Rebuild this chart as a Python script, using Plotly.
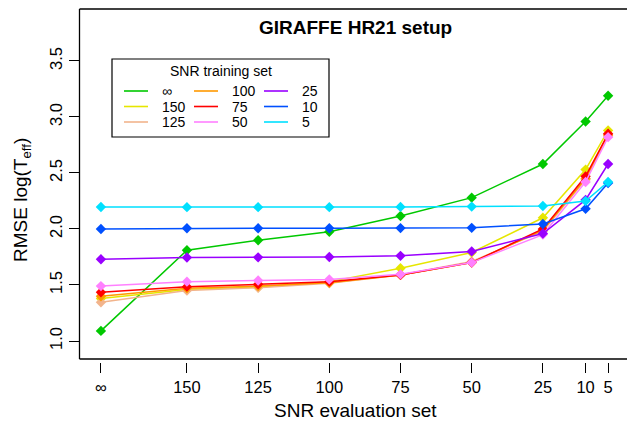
import plotly.graph_objects as go

# ---- data ----
eval_labels = ["∞", "150", "125", "100", "75", "50", "25", "10", "5"]
# axis coordinate used for each evaluation-set SNR category (reversed axis)
eval_axis_pos = [180.2, 150, 125, 100, 75, 50, 25, 10, 2.1]

train_labels = ["∞", "150", "125", "100", "75", "50", "25", "10", "5"]
train_colors = ["#00C800", "#E6E600", "#F2B48C", "#FF9900", "#FF0000",
                "#FF80FF", "#9900FF", "#0050FF", "#00E0FF"]

rmse_inf = [1.09, 1.81, 1.90, 1.976, 2.116, 2.28, 2.58, 2.96, 3.19]
rmse_150 = [1.38, 1.46, 1.48, 1.53, 1.65, 1.79, 2.10, 2.53, 2.88]
rmse_125 = [1.345, 1.45, 1.475, 1.515, 1.59, 1.71, 1.98, 2.44, 2.83]
rmse_100 = [1.40, 1.47, 1.49, 1.52, 1.59, 1.70, 1.99, 2.45, 2.84]
rmse_75 = [1.435, 1.485, 1.506, 1.53, 1.59, 1.70, 2.00, 2.47, 2.85]
rmse_50 = [1.49, 1.53, 1.54, 1.55, 1.595, 1.70, 1.95, 2.42, 2.82]
rmse_25 = [1.73, 1.745, 1.747, 1.75, 1.76, 1.80, 1.96, 2.26, 2.58]
rmse_10 = [2.00, 2.006, 2.006, 2.006, 2.008, 2.01, 2.045, 2.18, 2.41]
rmse_5 = [2.196, 2.195, 2.195, 2.195, 2.197, 2.20, 2.205, 2.25, 2.42]

series = [rmse_inf, rmse_150, rmse_125, rmse_100, rmse_75,
          rmse_50, rmse_25, rmse_10, rmse_5]

y_ticks = [1.0, 1.5, 2.0, 2.5, 3.0, 3.5]

# ---- figure ----
W, H = 627, 422
ML, MR, MT, MB = 80, 0, 9, 60
PW, PH = W - ML - MR, H - MT - MB

def px2paper(px, py):
    return (px - ML) / PW, (H - MB - py) / PH

fig = go.Figure()
for lab, col, ys in zip(train_labels, train_colors, series):
    fig.add_trace(go.Scatter(
        x=eval_axis_pos, y=ys, mode="lines+markers", name=lab,
        line=dict(color=col, width=1.5),
        marker=dict(symbol="diamond", size=8, color=col),
        showlegend=False, cliponaxis=False))

FONT = "Liberation Sans, Arial, Helvetica, sans-serif"

fig.update_layout(
    width=W, height=H,
    margin=dict(l=ML, r=MR, t=MT, b=MB, pad=0),
    paper_bgcolor="white", plot_bgcolor="white",
    font=dict(family=FONT, size=16, color="black"),
    xaxis=dict(
        range=[187.55, -4.54], tickmode="array",
        tickvals=eval_axis_pos, ticktext=eval_labels,
        ticks="outside", ticklen=10, tickwidth=1, tickcolor="black",
        showline=False, showgrid=False, zeroline=False, automargin=False,
        tickfont=dict(size=16.5),
    ),
    yaxis=dict(
        range=[0.8125, 3.964], tickmode="array", tickvals=y_ticks,
        ticktext=[f"{v:.1f}" for v in y_ticks], tickangle=-90,
        ticks="outside", ticklen=10, tickwidth=1, tickcolor="black",
        showline=False, showgrid=False, zeroline=False, automargin=False,
        tickfont=dict(size=16.5),
    ),
)

# axis titles
xt, yt = px2paper(355, 410)
fig.add_annotation(x=xt, y=yt, xref="paper", yref="paper", text="SNR evaluation set",
                   showarrow=False, font=dict(size=19), xanchor="center", yanchor="middle")
xt, yt = px2paper(22, 200)
fig.add_annotation(x=xt, y=yt, xref="paper", yref="paper", text="RMSE log(T<sub>eff</sub>)",
                   showarrow=False, font=dict(size=19), textangle=-90,
                   xanchor="center", yanchor="middle")

# plot box (bottom edge slightly above the detached x ticks)
x0b, y0b = px2paper(79.5, 359)
fig.add_shape(type="line", xref="paper", yref="paper", x0=x0b, x1=x0b, y0=y0b, y1=1,
              line=dict(color="black", width=1.3))
fig.add_shape(type="line", xref="paper", yref="paper", x0=x0b, x1=1.1, y0=1, y1=1,
              line=dict(color="black", width=1.3))
fig.add_shape(type="line", xref="paper", yref="paper", x0=x0b, x1=1.1, y0=y0b, y1=y0b,
              line=dict(color="black", width=1.3))

# title
tx, ty = px2paper(355, 28)
fig.add_annotation(x=tx, y=ty, xref="paper", yref="paper", text="<b>GIRAFFE HR21 setup</b>",
                   showarrow=False, font=dict(size=19), xanchor="center", yanchor="middle")

# legend box
lx0, ly0 = px2paper(112, 137)
lx1, ly1 = px2paper(329, 59)
fig.add_shape(type="rect", xref="paper", yref="paper", x0=lx0, y0=ly0, x1=lx1, y1=ly1,
              line=dict(color="black", width=1.2), fillcolor="white", layer="above")
ttx, tty = px2paper(221, 71)
fig.add_annotation(x=ttx, y=tty, xref="paper", yref="paper", text="SNR training set",
                   showarrow=False, font=dict(size=14), xanchor="center", yanchor="middle")
col_line_x = [(124, 148), (194, 218), (264, 288)]
col_text_x = [160, 230, 300]
row_y = [91, 106.5, 122]
for i, (lab, col) in enumerate(zip(train_labels, train_colors)):
    c, r = divmod(i, 3)
    ax0, ay = px2paper(col_line_x[c][0], row_y[r])
    ax1, _ = px2paper(col_line_x[c][1], row_y[r])
    fig.add_shape(type="line", xref="paper", yref="paper", x0=ax0, x1=ax1, y0=ay, y1=ay,
                  line=dict(color=col, width=1.6), layer="above")
    tx_, _ = px2paper(col_text_x[c], row_y[r])
    fig.add_annotation(x=tx_, y=ay, xref="paper", yref="paper", text=lab, showarrow=False,
                       font=dict(size=14), xanchor="left", yanchor="middle")

fig.write_html("out.html", config={"displayModeBar": False},
               post_script="document.body.style.margin='0';document.body.style.padding='0';")
